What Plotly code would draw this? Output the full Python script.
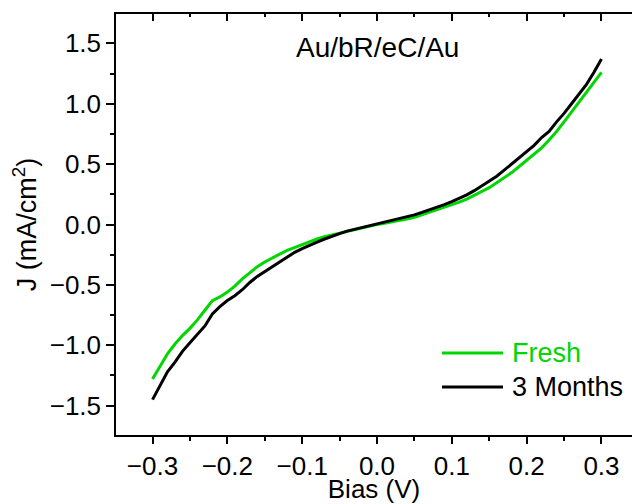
import plotly.graph_objects as go

bias = [-0.30, -0.29, -0.28, -0.27, -0.26, -0.25, -0.24, -0.23, -0.22, -0.21,
        -0.20, -0.19, -0.18, -0.17, -0.16, -0.15, -0.14, -0.13, -0.12, -0.11,
        -0.10, -0.09, -0.08, -0.07, -0.06, -0.05, -0.04, -0.03, -0.02, -0.01,
        0.00, 0.01, 0.02, 0.03, 0.04, 0.05, 0.06, 0.07, 0.08, 0.09,
        0.10, 0.11, 0.12, 0.13, 0.14, 0.15, 0.16, 0.17, 0.18, 0.19,
        0.20, 0.21, 0.22, 0.23, 0.24, 0.25, 0.26, 0.27, 0.28, 0.29, 0.30]

j_fresh = [-1.28, -1.18, -1.07, -0.99, -0.92, -0.86, -0.79, -0.71, -0.63, -0.60,
           -0.56, -0.51, -0.45, -0.40, -0.35, -0.31, -0.275, -0.245, -0.215, -0.19,
           -0.165, -0.14, -0.12, -0.10, -0.085, -0.07, -0.055, -0.04, -0.025, -0.01,
           0.00, 0.01, 0.02, 0.035, 0.045, 0.06, 0.08, 0.10, 0.12, 0.14,
           0.16, 0.185, 0.21, 0.24, 0.27, 0.305, 0.345, 0.385, 0.43, 0.48,
           0.53, 0.58, 0.635, 0.70, 0.77, 0.85, 0.93, 1.01, 1.09, 1.18, 1.26]

j_3months = [-1.45, -1.34, -1.22, -1.14, -1.05, -0.98, -0.91, -0.84, -0.74, -0.68,
             -0.63, -0.59, -0.54, -0.48, -0.43, -0.39, -0.35, -0.31, -0.27, -0.23,
             -0.20, -0.17, -0.145, -0.12, -0.095, -0.075, -0.055, -0.04, -0.025, -0.01,
             0.00, 0.015, 0.03, 0.05, 0.065, 0.08, 0.10, 0.12, 0.145, 0.165,
             0.19, 0.215, 0.245, 0.28, 0.32, 0.36, 0.40, 0.45, 0.50, 0.55,
             0.60, 0.655, 0.72, 0.77, 0.85, 0.92, 1.00, 1.08, 1.16, 1.26, 1.37]

series_names = ["Fresh", "3 Months"]
series_colors = ["rgb(0,214,0)", "black"]
x_ticks = [-0.3, -0.2, -0.1, 0.0, 0.1, 0.2, 0.3]
x_tick_labels = ["\u22120.3", "\u22120.2", "\u22120.1", "0.0", "0.1", "0.2", "0.3"]
y_ticks = [-1.5, -1.0, -0.5, 0.0, 0.5, 1.0, 1.5]
y_tick_labels = ["\u22121.5", "\u22121.0", "\u22120.5", "0.0", "0.5", "1.0", "1.5"]

FONT = "Liberation Sans, Arial, sans-serif"
XR = [-0.3488, 0.3408]
YR = [-1.743, 1.743]

fig = go.Figure()
for name, ys, col in zip(series_names, [j_fresh, j_3months], series_colors):
    fig.add_trace(go.Scatter(x=bias, y=ys, mode="lines", name=name,
                             line=dict(color=col, width=3), showlegend=False))

# invisible trace for mirrored top axis
fig.add_trace(go.Scatter(x=[XR[0]], y=[YR[0]], xaxis="x2", yaxis="y",
                         mode="markers", marker=dict(opacity=0), showlegend=False,
                         hoverinfo="skip"))

axis_common = dict(showgrid=False, zeroline=False,
                   tickfont=dict(family=FONT, size=26, color="black"))

fig.update_layout(
    width=632, height=504,
    margin=dict(l=116, r=0, t=14, b=69, pad=0),
    paper_bgcolor="white", plot_bgcolor="white",
    font=dict(family=FONT, size=26, color="black"),
    xaxis=dict(range=XR, tickvals=x_ticks, ticktext=x_tick_labels,
               ticks="outside", ticklen=7, tickwidth=1.5, tickcolor="black", showline=True,
               linewidth=1.5, linecolor="black",
               minor=dict(tickvals=[-0.25, -0.15, -0.05, 0.05, 0.15, 0.25],
                          ticks="outside", ticklen=4, tickwidth=1.5, tickcolor="black",
                          showgrid=False),
               title=dict(text="Bias (V)", font=dict(family=FONT, size=26), standoff=4),
               **axis_common),
    yaxis=dict(range=YR, tickvals=y_ticks, ticktext=y_tick_labels,
               ticks="outside", ticklen=8, tickwidth=1.5, tickcolor="black", showline=True,
               linewidth=1.5, linecolor="black",
               minor=dict(tickvals=[-1.25, -0.75, -0.25, 0.25, 0.75, 1.25],
                          ticks="outside", ticklen=4, tickwidth=1.5, tickcolor="black",
                          showgrid=False),
               title=dict(text="J (mA/cm<sup>2</sup>)", font=dict(family=FONT, size=27), standoff=5),
               **axis_common),
    xaxis2=dict(range=XR, overlaying="x", side="top", anchor="y",
                tickvals=x_ticks, showticklabels=False, ticks="inside", tickcolor="black",
                ticklen=7, tickwidth=1.5, showline=True, linewidth=1.5, linecolor="black",
                minor=dict(tickvals=[-0.25, -0.15, -0.05, 0.05, 0.15, 0.25],
                           ticks="inside", ticklen=3, tickwidth=1.5, tickcolor="black",
                           showgrid=False),
                showgrid=False, zeroline=False),
)

fig.add_annotation(text="Au/bR/eC/Au", xref="paper", yref="paper",
                   x=(377 - 116) / 516, y=(435 - 47) / 421, showarrow=False,
                   xanchor="center", yanchor="middle",
                   font=dict(family=FONT, size=28, color="black"))

# legend drawn manually
for name, col, ypx in zip(series_names, series_colors, [353, 387]):
    yp = (435 - ypx) / 421
    fig.add_shape(type="line", xref="paper", yref="paper",
                  x0=(442 - 116) / 516, x1=(503 - 116) / 516, y0=yp, y1=yp,
                  line=dict(color=col, width=3))
    fig.add_annotation(text=name, xref="paper", yref="paper",
                       x=(510 - 116) / 516, y=yp, showarrow=False,
                       xanchor="left", yanchor="middle",
                       font=dict(family=FONT, size=27, color=col))

fig.write_html("out.html")
